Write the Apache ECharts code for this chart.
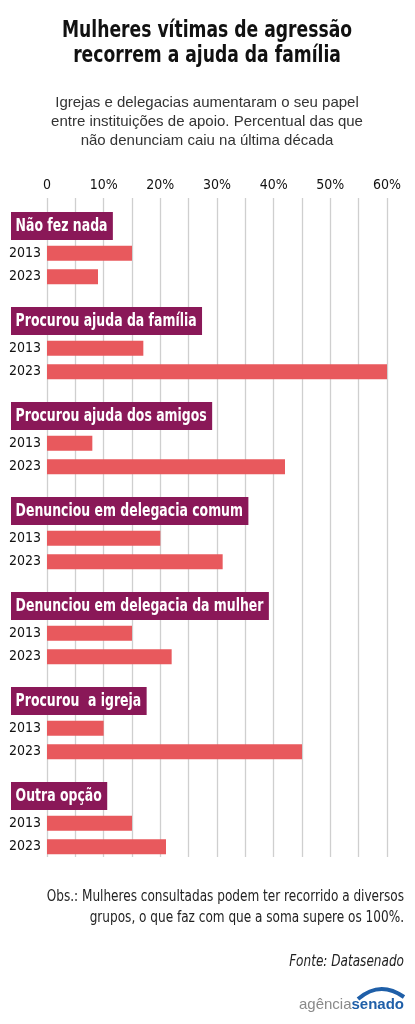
<!DOCTYPE html>
<html>
<head>
<meta charset="utf-8">
<script src="https://cdn.jsdelivr.net/npm/echarts@6/dist/echarts.min.js"></script>
<style>
  html, body { margin: 0; padding: 0; background: #fff; }
  #chart { width: 415px; height: 1024px; }
</style>
</head>
<body>
<div id="chart"></div>
<script>
var categories = ['Não fez nada', 'Procurou ajuda da família', 'Procurou ajuda dos amigos',
  'Denunciou em delegacia comum', 'Denunciou em delegacia da mulher', 'Procurou  a igreja', 'Outra opção'];
var years = ['2013', '2023'];
var values2013 = [15, 17, 8, 20, 15, 10, 15];
var values2023 = [9, 60, 42, 31, 22, 45, 21];
var tickLabels = ['0', '10%', '20%', '30%', '40%', '50%', '60%'];

var narrow = "'Liberation Sans Narrow', 'DejaVu Sans Condensed', sans-serif";
var barColor = '#E8595D';
var headColor = '#8A1858';

var chart = echarts.init(document.getElementById('chart'));

var firstHeadTop = 212;
var step = 95;

var grids = [{ left: 47, right: 28, top: 198, bottom: 167 }];
var xAxes = [{
  gridIndex: 0, type: 'value', min: 0, max: 60, interval: 5, position: 'top',
  axisLine: { show: false }, axisTick: { show: false },
  axisLabel: {
    margin: 6, fontSize: 14, color: '#111', fontFamily: narrow,
    formatter: function (v) { return v % 10 === 0 ? tickLabels[v / 10] : ''; }
  },
  splitLine: { lineStyle: { color: '#cfcfcf', width: 1.3 } }
}];
var yAxes = [{ gridIndex: 0, type: 'category', data: [], show: false }];
var series = [];
var graphics = [];

categories.forEach(function (name, i) {
  var top = firstHeadTop + i * step;
  // two bar rows below each header
  grids.push({ left: 47, right: 28, top: top + 29.5, height: 47 });
  xAxes.push({ gridIndex: i + 1, type: 'value', min: 0, max: 60, show: false });
  yAxes.push({
    gridIndex: i + 1, type: 'category', data: years, inverse: true,
    axisLine: { show: false }, axisTick: { show: false },
    axisLabel: { margin: 6, fontSize: 14, color: '#111', fontFamily: narrow }
  });
  series.push({
    type: 'bar', xAxisIndex: i + 1, yAxisIndex: i + 1, barWidth: 15,
    itemStyle: { color: barColor },
    data: [values2013[i], values2023[i]]
  });
  graphics.push({
    type: 'text', x: 11, y: top, scaleX: 0.77, z: 10,
    style: {
      text: name, align: 'left', verticalAlign: 'top',
      backgroundColor: headColor, padding: [4, 7, 4, 6],
      fill: '#fff', fontSize: 18, fontWeight: 'bold', fontFamily: narrow, lineHeight: 20
    }
  });
});

graphics.push(
  { type: 'text', x: 207, y: 31, scaleX: 0.83, style: { text: 'Mulheres vítimas de agressão', align: 'center', verticalAlign: 'middle',
    fontSize: 23, fontWeight: 'bold', fontFamily: narrow, fill: '#111' } },
  { type: 'text', x: 207, y: 56, scaleX: 0.83, style: { text: 'recorrem a ajuda da família', align: 'center', verticalAlign: 'middle',
    fontSize: 23, fontWeight: 'bold', fontFamily: narrow, fill: '#111' } },
  { type: 'text', x: 207, y: 122, style: { text: 'Igrejas e delegacias aumentaram o seu papel\nentre instituições de apoio. Percentual das que\nnão denunciam caiu na última década',
    align: 'center', verticalAlign: 'middle', fontSize: 15, lineHeight: 19, fontFamily: "'Liberation Sans', sans-serif", fill: '#333' } },
  { type: 'text', x: 404, y: 907, scaleX: 0.84, style: { text: 'Obs.: Mulheres consultadas podem ter recorrido a diversos\ngrupos, o que faz com que a soma supere os 100%.',
    align: 'right', verticalAlign: 'middle', fontSize: 16, lineHeight: 21, fontFamily: narrow, fill: '#222' } },
  { type: 'text', x: 404, y: 962, scaleX: 0.84, style: { text: 'Fonte: Datasenado', align: 'right', verticalAlign: 'middle',
    fontSize: 16, fontStyle: 'italic', fontFamily: narrow, fill: '#222' } },
  { type: 'bezierCurve', shape: { x1: 358, y1: 999, x2: 404, y2: 997, cpx1: 380, cpy1: 980 },
    style: { stroke: '#1F5FA8', lineWidth: 4, fill: null } },
  { type: 'text', x: 404, y: 1005, style: { text: '{a|agência}{b|senado}', align: 'right', verticalAlign: 'middle',
    rich: {
      a: { fontSize: 15, fontFamily: "'Liberation Sans', sans-serif", fill: '#8a8a8a' },
      b: { fontSize: 15, fontWeight: 'bold', fontFamily: "'Liberation Sans', sans-serif", fill: '#1F5FA8' }
    } } }
);

chart.setOption({
  animation: false,
  grid: grids,
  xAxis: xAxes,
  yAxis: yAxes,
  series: series,
  graphic: graphics
});
</script>
</body>
</html>
